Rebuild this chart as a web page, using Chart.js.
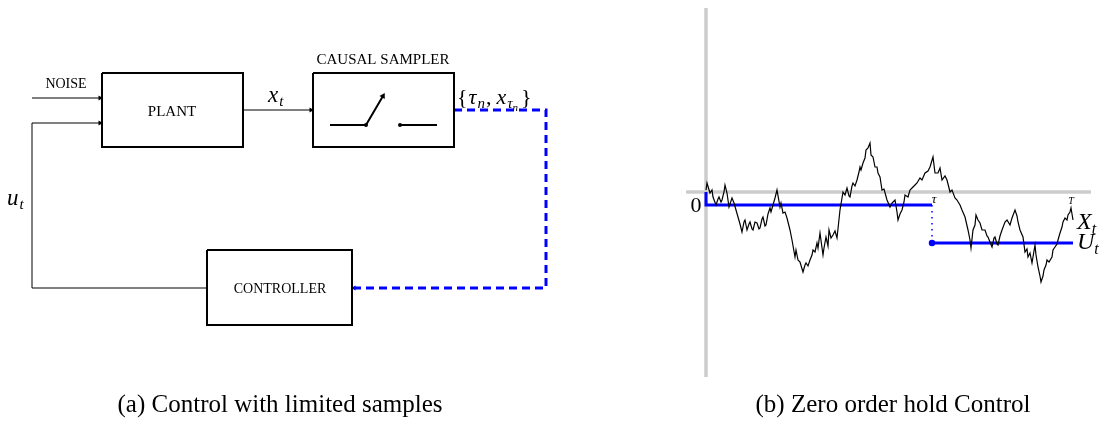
<!DOCTYPE html>
<html>
<head>
<meta charset="utf-8">
<script src="https://cdn.jsdelivr.net/npm/chart.js@4.4.0/dist/chart.umd.min.js"></script>
<style>
  html, body { margin: 0; padding: 0; background: #fff; }
  #wrap { position: relative; width: 1106px; height: 421px; }
  canvas { position: absolute; top: 0; }
  #diagram { left: 0; }
  #zoh { left: 560px; }
</style>
</head>
<body>
<div id="wrap">
  <canvas id="diagram" width="560" height="421"></canvas>
  <canvas id="zoh" width="546" height="421"></canvas>
</div>
<script>
// ---- block diagram (a), in diagram units ----
const plantBox = [[102, 73], [243, 73], [243, 147], [102, 147], [102, 73]];
const samplerBox = [[313, 73], [454, 73], [454, 147], [313, 147], [313, 73]];
const controllerBox = [[207, 250], [352, 250], [352, 325], [207, 325], [207, 250]];
const noiseWire = [[32, 98], [100, 98]];
const feedbackWire = [[207, 288], [32, 288], [32, 123], [100, 123]];
const stateWire = [[243, 110], [311, 110]];
const sampleWire = [[454, 110], [546, 110], [546, 288], [354, 288]];
const switchIn = [[330, 125], [366, 125], [383, 96]];
const switchOut = [[400, 125], [437, 125]];

// ---- zero order hold (b) ----
const walkT = [0, 1, 4, 6, 7, 10, 12, 13, 15, 16, 18, 19, 21, 23, 26, 28, 30, 32, 34, 36,
  38, 39, 41, 43, 44, 46, 47, 49, 51, 53, 54, 56, 57, 59, 60, 62, 64, 65, 67, 69,
  71, 74, 75, 77, 79, 81, 84, 86, 89, 90, 92, 94, 97, 99, 100, 102, 104, 106, 107, 109,
  111, 112, 114, 117, 118, 120, 122, 123, 125, 127, 129, 131, 134, 137, 139, 141, 143, 144, 146, 147,
  149, 151, 153, 154, 155, 157, 159, 160, 162, 164, 165, 167, 169, 171, 172, 174, 176, 178, 181, 184,
  186, 189, 191, 192, 194, 196, 198, 199, 202, 204, 206, 209, 211, 214, 216, 219, 222, 224, 227, 229,
  232, 234, 236, 239, 241, 244, 246, 249, 251, 254, 256, 259, 262, 264, 265, 267, 269, 270, 272, 274,
  276, 279, 281, 282, 284, 286, 288, 289, 291, 292, 294, 296, 299, 301, 304, 306, 309, 311, 312, 314,
  317, 319, 321, 322, 324, 326, 329, 330, 332, 334, 335, 337, 338, 340, 341, 343, 346, 347, 349, 351,
  352, 354, 356, 357, 359, 361, 362, 364, 365, 366, 367];
const walkX = [2, 9, -1, 2, -5, -13, -7, -5, -10, -8, 0, 7, -1, -15, -6, -11, -18, -25, -32, -40,
  -30, -28, -38, -32, -30, -37, -38, -30, -31, -37, -36, -27, -25, -34, -33, -22, -16, -20, -13, -6,
  2, -15, -11, -21, -20, -26, -38, -48, -65, -58, -68, -70, -80, -73, -71, -74, -68, -63, -58, -60,
  -51, -56, -41, -63, -56, -45, -54, -38, -46, -43, -39, -46, -18, 0, -3, 4, -4, -5, 6, 9,
  6, 12, 20, 25, 22, 29, 34, 42, 44, 49, 37, 35, 25, 25, 19, 15, 2, 3, -8, -15,
  -11, -8, -20, -28, -22, -18, -10, -3, -5, 2, 4, 7, 9, 14, 12, 19, 21, 25, 35, 19,
  19, 24, 12, 16, 12, 0, 2, -6, -8, -13, -18, -25, -38, -48, -56, -38, -33, -23, -28, -31,
  -38, -38, -44, -45, -50, -55, -46, -45, -52, -53, -44, -38, -30, -28, -33, -26, -18, -24, -30, -38,
  -45, -60, -57, -65, -61, -71, -53, -63, -75, -84, -90, -84, -78, -73, -68, -70, -65, -58, -55, -52,
  -48, -41, -35, -30, -26, -28, -23, -20, -16, -22, -28];
const tau = 226;
const horizon = 367;
const holdLevels = [-13, -51];

const pts = a => a.map(([x, y]) => ({ x, y }));
const serif = '"Liberation Serif", "DejaVu Serif", serif';

function wire(points, color, width, arrowRot, dash) {
  const n = points.length;
  return {
    data: pts(points), showLine: true, borderColor: color, backgroundColor: color,
    borderWidth: width, borderDash: dash || [], tension: 0, clip: false,
    pointRadius: points.map((p, i) => (i === n - 1 && arrowRot !== null ? 3 : 0)),
    pointStyle: 'triangle', pointRotation: arrowRot || 0, pointBorderWidth: 0
  };
}
function box(points) {
  return { data: pts(points), showLine: true, borderColor: '#000', borderWidth: 2,
    borderJoinStyle: 'miter', pointRadius: 0, tension: 0, clip: false };
}

// draws a run of text pieces (for subscripts)
function drawMath(ctx, x, y, items) {
  for (const it of items) {
    ctx.font = (it.italic ? 'italic ' : '') + it.size + 'px ' + serif;
    ctx.fillText(it.s, x, y + (it.dy || 0));
    x += ctx.measureText(it.s).width + (it.gap || 0);
  }
}

const diagramText = {
  id: 'diagramText',
  afterDatasetsDraw(chart) {
    const { ctx, scales: { x, y } } = chart;
    const px = v => x.getPixelForValue(v), py = v => y.getPixelForValue(v);
    ctx.save();
    ctx.fillStyle = '#000';
    ctx.textBaseline = 'alphabetic';
    ctx.textAlign = 'center';
    ctx.font = '14px ' + serif;
    ctx.fillText('NOISE', px(66), py(88));
    ctx.font = '15px ' + serif;
    ctx.fillText('PLANT', px(172), py(116));
    ctx.fillText('CAUSAL SAMPLER', px(383), py(64));
    ctx.font = '14px ' + serif;
    ctx.fillText('CONTROLLER', px(280), py(293));
    ctx.font = '25px ' + serif;
    ctx.fillText('(a) Control with limited samples', px(280), py(412));
    ctx.textAlign = 'left';
    drawMath(ctx, px(268), py(102), [{ s: 'x', size: 23, italic: true, gap: 1 }, { s: 't', size: 15, italic: true, dy: 4 }]);
    drawMath(ctx, px(7), py(205), [{ s: 'u', size: 23, italic: true, gap: 1 }, { s: 't', size: 15, italic: true, dy: 4 }]);
    drawMath(ctx, px(457), py(104), [
      { s: '{', size: 22, gap: 1 }, { s: 'τ', size: 22, italic: true, gap: 1 }, { s: 'n', size: 15, italic: true, dy: 4, gap: 1 },
      { s: ',', size: 22, gap: 5 }, { s: 'x', size: 22, italic: true, gap: 1 }, { s: 'τ', size: 15, italic: true, dy: 4 },
      { s: 'n', size: 11, italic: true, dy: 7, gap: 3 }, { s: '}', size: 22 }
    ]);
    ctx.restore();
  }
};

new Chart(document.getElementById('diagram'), {
  type: 'scatter',
  data: {
    datasets: [
      box(plantBox), box(samplerBox), box(controllerBox),
      wire(noiseWire, '#000', 1, 90),
      wire(feedbackWire, '#000', 1, 90),
      wire(stateWire, '#000', 1, 90),
      wire(sampleWire, '#0000ff', 3, 270, [8, 5]),
      Object.assign(wire(switchIn, '#000', 2, 30), {
        pointRadius: [0, 2, 3.5], pointStyle: ['circle', 'circle', 'triangle']
      }),
      Object.assign(wire(switchOut, '#000', 2, null), {
        pointRadius: [2, 0], pointStyle: 'circle'
      })
    ]
  },
  options: {
    responsive: false, animation: false, events: [],
    layout: { padding: 0, autoPadding: false },
    plugins: { legend: { display: false }, tooltip: { enabled: false } },
    scales: {
      x: { type: 'linear', display: false, min: 0, max: 560 },
      y: { type: 'linear', display: false, min: 0, max: 421, reverse: true }
    }
  },
  plugins: [diagramText]
});

const zohText = {
  id: 'zohText',
  afterDatasetsDraw(chart) {
    const { ctx, scales: { x, y } } = chart;
    ctx.save();
    ctx.fillStyle = '#000';
    ctx.textBaseline = 'alphabetic';
    ctx.textAlign = 'center';
    ctx.font = '22px ' + serif;
    ctx.fillText('0', x.getPixelForValue(-10), y.getPixelForValue(-20));
    ctx.font = 'italic 13px ' + serif;
    ctx.fillText('τ', x.getPixelForValue(tau + 2), y.getPixelForValue(-11));
    ctx.font = 'italic 10px ' + serif;
    ctx.fillText('T', x.getPixelForValue(horizon - 2), y.getPixelForValue(-12));
    ctx.font = '25px ' + serif;
    ctx.fillText('(b) Zero order hold Control', 333, 412);
    ctx.textAlign = 'left';
    drawMath(ctx, x.getPixelForValue(371), y.getPixelForValue(-37),
      [{ s: 'X', size: 24, italic: true }, { s: 't', size: 16, italic: true, dy: 5 }]);
    drawMath(ctx, x.getPixelForValue(371), y.getPixelForValue(-57),
      [{ s: 'U', size: 24, italic: true }, { s: 't', size: 16, italic: true, dy: 5 }]);
    ctx.restore();
  }
};

const line = (data, color, width, order) => ({
  data, showLine: true, borderColor: color, backgroundColor: color, borderWidth: width,
  pointRadius: 0, tension: 0, clip: false, order
});

new Chart(document.getElementById('zoh'), {
  type: 'scatter',
  data: {
    datasets: [
      line([{ x: -20, y: 0 }, { x: 385, y: 0 }], '#cccccc', 3.5, 9),
      line([{ x: 0, y: -185 }, { x: 0, y: 184 }], '#cccccc', 3.5, 9),
      line([{ x: 0, y: 0 }, { x: 0, y: holdLevels[0] }, { x: tau, y: holdLevels[0] }], '#0000ff', 3, 5),
      Object.assign(line([{ x: tau, y: holdLevels[0] }, { x: tau, y: holdLevels[1] }], '#0000ff', 1.5, 5), {
        borderDash: [1.5, 4.5], pointRadius: [0, 2.5]
      }),
      line([{ x: tau, y: holdLevels[1] }, { x: horizon, y: holdLevels[1] }], '#0000ff', 3, 5),
      line(walkT.map((t, i) => ({ x: t, y: walkX[i] })), '#000', 1.2, 1)
    ]
  },
  options: {
    responsive: false, animation: false, events: [],
    layout: { padding: { left: 126, right: 15, top: 8, bottom: 44 }, autoPadding: false },
    plugins: { legend: { display: false }, tooltip: { enabled: false } },
    scales: {
      x: { type: 'linear', display: false, min: -20, max: 385 },
      y: { type: 'linear', display: false, min: -185, max: 184 }
    }
  },
  plugins: [zohText]
});
</script>
</body>
</html>
